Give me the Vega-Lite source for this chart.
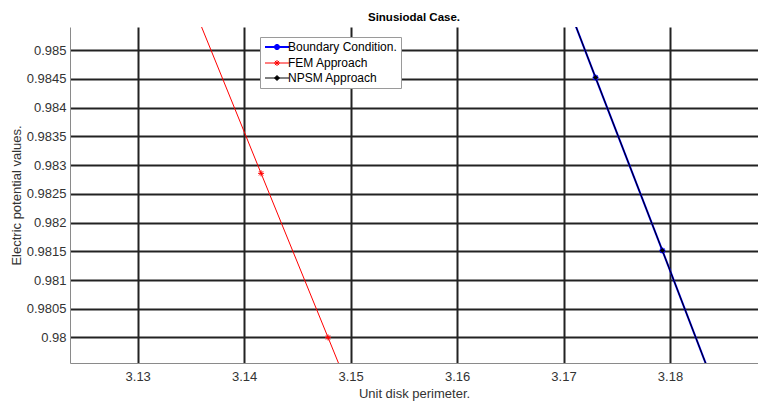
{
  "$schema": "https://vega.github.io/schema/vega-lite/v6.json",
  "autosize": {"type": "none"},
  "padding": {"left": 70, "top": 27, "right": 0, "bottom": 42},
  "width": 688,
  "height": 336,
  "background": "#ffffff",
  "title": {
    "text": "Sinusiodal Case.",
    "font": "Liberation Sans",
    "fontSize": 11.5,
    "fontWeight": "bold",
    "color": "#000000",
    "anchor": "middle",
    "offset": 4
  },
  "config": {
    "view": {"stroke": null},
    "axis": {
      "labelFont": "Liberation Sans",
      "labelFontSize": 13,
      "labelColor": "#333333",
      "titleFont": "Liberation Sans",
      "titleFontSize": 13,
      "titleFontWeight": "normal",
      "titleColor": "#333333",
      "domainColor": "#8a8a8a",
      "domainWidth": 1,
      "ticks": false,
      "gridColor": "#222222",
      "gridWidth": 2,
      "gridOpacity": 1
    }
  },
  "data": {
    "values": [
      {"series": "Boundary Condition.", "x": 3.16673, "y": 0.987557},
      {"series": "Boundary Condition.", "x": 3.17301, "y": 0.984524},
      {"series": "Boundary Condition.", "x": 3.17929, "y": 0.981512},
      {"series": "Boundary Condition.", "x": 3.18557, "y": 0.978479},
      {"series": "FEM Approach", "x": 3.13531, "y": 0.98572},
      {"series": "FEM Approach", "x": 3.14159, "y": 0.982857},
      {"series": "FEM Approach", "x": 3.14788, "y": 0.98},
      {"series": "FEM Approach", "x": 3.15416, "y": 0.97714},
      {"series": "NPSM Approach", "x": 3.16673, "y": 0.987557},
      {"series": "NPSM Approach", "x": 3.17301, "y": 0.984524},
      {"series": "NPSM Approach", "x": 3.17929, "y": 0.981512},
      {"series": "NPSM Approach", "x": 3.18557, "y": 0.978479}
    ]
  },
  "encoding": {
    "x": {
      "field": "x",
      "type": "quantitative",
      "scale": {"domain": [3.12364, 3.18827], "nice": false, "zero": false},
      "axis": {
        "title": "Unit disk perimeter.",
        "values": [3.13, 3.14, 3.15, 3.16, 3.17, 3.18],
        "format": "~g",
        "labelPadding": 7,
        "titlePadding": 4
      }
    },
    "y": {
      "field": "y",
      "type": "quantitative",
      "scale": {"domain": [0.979555, 0.985405], "nice": false, "zero": false},
      "axis": {
        "title": "Electric potential values.",
        "values": [0.98, 0.9805, 0.981, 0.9815, 0.982, 0.9825, 0.983, 0.9835, 0.984, 0.9845, 0.985],
        "format": "~g",
        "labelPadding": 4,
        "titlePadding": 3
      }
    }
  },
  "layer": [
    {
      "transform": [{"filter": "datum.series === 'Boundary Condition.'"}],
      "mark": {"type": "line", "clip": true, "strokeWidth": 2},
      "encoding": {
        "color": {
          "field": "series",
          "type": "nominal",
          "scale": {
            "domain": ["Boundary Condition.", "FEM Approach", "NPSM Approach"],
            "range": ["#0000ff", "#ff0000", "#000000"]
          },
          "legend": {
            "orient": "none",
            "legendX": 190,
            "legendY": 10,
            "title": null,
            "padding": 4,
            "fillColor": "#ffffff",
            "strokeColor": "#9a9a9a",
            "symbolSize": 100,
            "labelOffset": 12,
            "rowPadding": 3,
            "labelFont": "Liberation Sans",
            "labelFontSize": 12,
            "labelColor": "#000000",
            "encode": {
              "symbols": {
                "update": {
                  "shape": {"signal": "datum.value === 'NPSM Approach' ? 'M-1,0H3.8M1.4,-0.5L1.9,0L1.4,0.5L0.9,0Z' : 'M-1,0H3.8M0.8,0H2M1.4,-0.6V0.6M0.98,-0.42L1.82,0.42M0.98,0.42L1.82,-0.42'"},
                  "strokeWidth": {"signal": "datum.value === 'Boundary Condition.' ? 2 : 1"},
                  "fill": {"signal": "datum.value === 'NPSM Approach' ? '#000000' : 'transparent'"}
                }
              }
            }
          }
        }
      }
    },
    {
      "transform": [{"filter": "datum.series === 'FEM Approach'"}],
      "mark": {"type": "line", "clip": true, "strokeWidth": 1, "color": "#ff0000"},
      "encoding": {}
    },
    {
      "transform": [{"filter": "datum.series === 'NPSM Approach'"}],
      "mark": {"type": "line", "clip": true, "strokeWidth": 1, "color": "#000000"},
      "encoding": {}
    },
    {
      "transform": [{"filter": "datum.series === 'Boundary Condition.'"}],
      "mark": {"type": "point", "clip": true, "filled": false, "color": "#0000ff", "strokeWidth": 1.5, "size": 36, "opacity": 1,
        "shape": "M-1,0H1M0,-1V1M-0.7,-0.7L0.7,0.7M-0.7,0.7L0.7,-0.7"},
      "encoding": {}
    },
    {
      "transform": [{"filter": "datum.series === 'FEM Approach'"}],
      "mark": {"type": "point", "clip": true, "filled": false, "color": "#ff0000", "strokeWidth": 1, "size": 36, "opacity": 1,
        "shape": "M-1,0H1M0,-1V1M-0.7,-0.7L0.7,0.7M-0.7,0.7L0.7,-0.7"},
      "encoding": {}
    },
    {
      "transform": [{"filter": "datum.series === 'NPSM Approach'"}],
      "mark": {"type": "point", "clip": true, "filled": true, "color": "#000000", "size": 25, "opacity": 1,
        "shape": "M0,-1L1,0L0,1L-1,0Z"},
      "encoding": {}
    }
  ]
}
